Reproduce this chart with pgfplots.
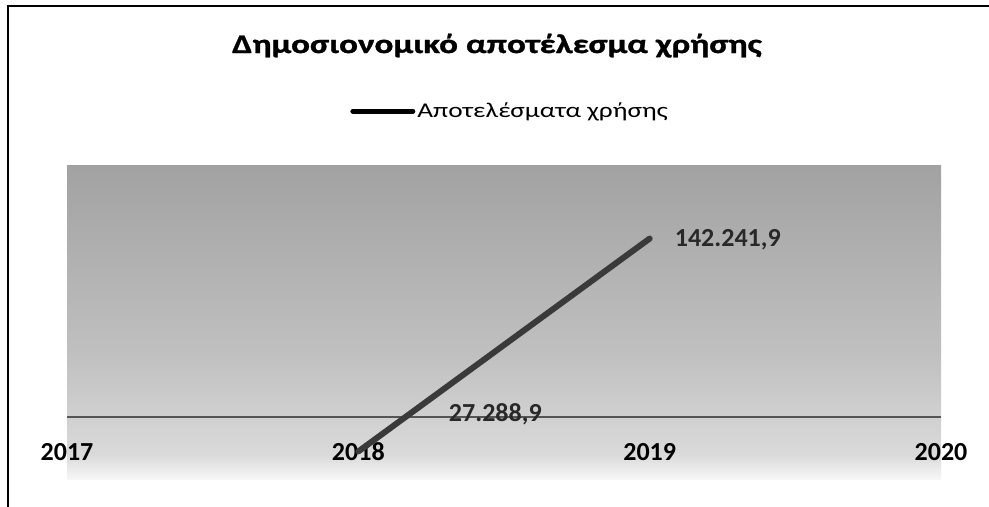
\documentclass[border=0pt]{standalone}
\usepackage{pgfplots}
\pgfplotsset{compat=1.18}
\usepackage{fontspec}
\setmainfont{Carlito}
\newfontfamily\widefont[FakeStretch=1.3]{Carlito}
\newfontfamily\heavyfont[FakeStretch=1.3, FakeBold=1.2]{Carlito}
\definecolor{linegray}{RGB}{58,58,58}
\definecolor{zerogray}{RGB}{85,85,85}
\definecolor{labelgray}{RGB}{40,40,40}
\definecolor{bgtop}{RGB}{162,162,162}
\definecolor{bgmid}{RGB}{192,192,192}
\definecolor{bglow}{RGB}{218,218,218}
\definecolor{bgbot}{RGB}{248,248,248}
% tikz maps the band 25bp..75bp of a shading onto the path
\pgfdeclareverticalshading{plotbg}{100bp}{color(0bp)=(bgbot); color(25bp)=(bgbot); color(29bp)=(bglow); color(45bp)=(bgmid); color(75bp)=(bgtop); color(100bp)=(bgtop)}

\begin{document}
\begin{tikzpicture}
\useasboundingbox (0,0) rectangle (989bp,507bp);
% frame of the scanned page
\draw[line width=2bp] (8bp,0bp) -- (8bp,501bp) -- (989bp,501bp);
\begin{axis}[
    at={(67bp,27bp)}, anchor=south west,
    scale only axis,
    width=874bp, height=314bp,
    xmin=0, xmax=3,
    ymin=-50000, ymax=200000,
    axis background/.style={shading=plotbg},
    axis line style={draw=none},
    tick style={draw=none},
    xtick={0,1,2,3},
    xticklabels={2017,2018,2019,2020},
    xticklabel style={anchor=base, yshift=20bp, text=black,
        font=\bfseries\fontsize{26bp}{30bp}\selectfont},
    ytick=\empty,
    extra y ticks={0},
    extra y tick labels={},
    extra y tick style={grid=major, major grid style={draw=zerogray, line width=2.5bp}},
    title={Δημοσιονομικό αποτέλεσμα χρήσης},
    title style={at={(0.492,1)}, anchor=base, yshift=107bp, inner sep=0pt,
        font=\heavyfont\bfseries\fontsize{27bp}{32bp}\selectfont},
    legend style={at={(0.507,1.175)}, anchor=center, draw=none, fill=none,
        font=\widefont\fontsize{21bp}{25bp}\selectfont, inner sep=0pt,
        /tikz/every even column/.append style={column sep=0pt}},
    legend cell align=left,
    legend image code/.code={\draw[line width=5bp, black] (0bp,0bp) -- (60bp,0bp);},
]
\addplot[color=linegray, line width=6bp, line cap=round] coordinates {
    (1,-27288.9) (2,142241.9)
};
\addlegendentry{Αποτελέσματα χρήσης}
\addplot[draw=none, forget plot, point meta=explicit symbolic, nodes near coords,
    every node near coord/.append style={anchor=center, xshift=137bp, yshift=37bp,
        inner sep=0pt, text=labelgray, font=\bfseries\fontsize{26bp}{30bp}\selectfont}]
    coordinates {(1,-27288.9) [27.288,9]};
\addplot[draw=none, forget plot, point meta=explicit symbolic, nodes near coords,
    every node near coord/.append style={anchor=west, xshift=25bp, yshift=-1bp,
        inner sep=0pt, text=labelgray, font=\bfseries\fontsize{26bp}{30bp}\selectfont}]
    coordinates {(2,142241.9) [142.241,9]};
\end{axis}
\end{tikzpicture}
\end{document}
